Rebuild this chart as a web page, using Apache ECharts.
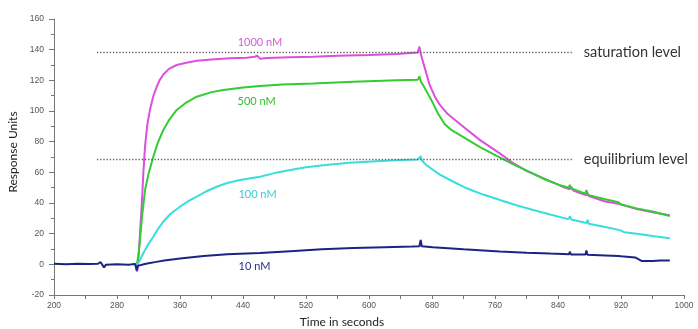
<!DOCTYPE html>
<html>
<head>
<meta charset="utf-8">
<script src="https://cdn.jsdelivr.net/npm/echarts@6/dist/echarts.min.js"></script>
<style>html,body{margin:0;padding:0;background:#fff}#c{width:698px;height:329px}</style>
</head>
<body>
<div id="c"></div>
<script>
// ---- data (time in seconds, response units) ----
const xTicks = [200, 280, 360, 440, 520, 600, 680, 760, 840, 920, 1000];
const yTicks = [-20, 0, 20, 40, 60, 80, 100, 120, 140, 160];

const nM1000 = [[300,0],[304,0],[305.5,-4.8],[306.5,-2],[308,10],[311.3,37.6],[313.5,60],[315.6,77],[318.5,91],[321.9,101],[326,109.5],[330.4,115.8],[334,120],[338.8,123.8],[346,127.5],[355.8,130],[368,131.5],[381.2,132.8],[400,133.6],[423.5,134.4],[445,134.7],[455,135.4],[458,136],[462,134],[470,134.5],[500,135],[529,135.4],[560,136],[600,136.6],[635,137.2],[662,138.2],[664,142],[665.5,138],[668,133],[672,126],[677,117],[684,109],[690,104],[700,98],[719,90],[741,81],[766,72.4],[782,66.4],[800,61],[824,55.6],[845,50.8],[855,49],[857,50.5],[859,48.3],[866,46.8],[876,45],[877,47],[879,44.5],[900,41],[918,39.3],[920,38.6],[940,36],[960,34],[982,32]];

const nM500 = [[300,0],[305,0],[307,5],[309.2,15.9],[312,32],[315.6,48.5],[320,59],[326.1,70.2],[332,79.5],[338.8,87.6],[346,94],[355.8,100.7],[368,105.5],[381.2,109.3],[400,112.3],[415,113.7],[440,115.3],[461.6,116.3],[490,117.3],[529,118],[580,119],[635,120],[662,120.4],[664,122.6],[666,119],[668.6,117],[675,111],[681.3,105],[688,98],[696,91.5],[705,87.5],[723,82],[741,76.5],[761,71],[782,65.5],[803,60.5],[825,55],[845,51.2],[853.6,50],[855,51.8],[857,49.5],[874.7,46],[876,48.5],[878,45.3],[900,42.5],[916.7,40.5],[920,39],[940,36.5],[960,34.5],[982,31.5]];

const nM100 = [[300,0],[305,0],[308,1.5],[313.4,7.2],[319,12.5],[326.1,18],[332,23],[338.8,27.8],[348,33],[360,37.6],[370,41],[381.2,44.1],[393,47.5],[406.6,50.6],[420,53],[436.2,55],[461.6,57.1],[480,59.5],[500,61.5],[520,63.3],[545,64.8],[575,66.2],[610,67.3],[640,68],[662,68.3],[665.6,70.6],[667,68],[672,65],[681.6,61.5],[690,58.5],[702.9,55],[724,49.6],[745,45.5],[766.3,42],[787,38.5],[808.6,35.4],[830,32.5],[853,29.5],[855.2,31.2],[857,29.2],[876.4,27],[877.5,29],[879,26.5],[900,24.3],[914.5,22.8],[920,22],[924,21],[940,20],[960,18.5],[982,17]];

const nM10 = [[200,0.3],[215,0.1],[230,0.4],[245,0.2],[256,0.4],[259,1.5],[261,0.5],[263.5,-2],[266,-0.2],[280,0.1],[295,-0.2],[303,0.3],[305,-4],[306.5,-1],[309,-1.5],[314,0],[320,0.7],[330,1.6],[340,2.5],[360,3.8],[390,5.4],[420,6.5],[461.6,7.4],[500,8.6],[540,9.8],[580,10.6],[620,11.2],[655,11.6],[664,11.8],[665.6,15.9],[667,11.8],[681,11.1],[720,9.8],[766,8.4],[800,7.6],[830,7],[854,6.6],[855,8.2],[856.5,6.4],[875,6.4],[876,9],[877.5,6.2],[900,5.8],[917,5.4],[918.5,6.4],[920,5.2],[938,4.5],[946,2.2],[960,2.2],[970,2.5],[982,2.5]];

const seriesNames = ['1000 nM', '500 nM', '100 nM', '10 nM'];
const labelPos = [[461.6,144.6],[457.4,106.5],[458.4,45.7],[454.6,-1.2]];

const levelNames = ['saturation level', 'equilibrium level'];
const levelValues = [138.2, 68.8];
const levelRange = [254.6, 857.5];

// ---- styling ----
const lineColors = ['#dd4fdd', '#33cc33', '#38dede', '#1c2482'];
const textColors = ['#d858d8', '#2fbf2f', '#3ccccc', '#2a2f88'];
const seriesData = [nM1000, nM500, nM100, nM10];

const chart = echarts.init(document.getElementById('c'), null, {renderer: 'canvas'});

const series = seriesData.map((d, i) => ({
  name: seriesNames[i],
  type: 'line',
  data: d,
  symbol: 'none',
  smooth: false,
  lineStyle: {color: lineColors[i], width: 2},
  itemStyle: {color: lineColors[i]},
  z: 2 + i,
  markPoint: {
    symbol: 'circle',
    symbolSize: 0,
    silent: true,
    data: [{coord: labelPos[i], value: seriesNames[i]}],
    label: {show: true, position: 'inside', formatter: seriesNames[i], color: textColors[i], fontFamily: 'Lato', fontSize: 11}
  }
}));

series.push({
  name: 'levels',
  type: 'line',
  data: [],
  symbol: 'none',
  markLine: {
    silent: true,
    symbol: ['none', 'none'],
    lineStyle: {color: '#555', type: [1.2, 2], width: 1.4},
    label: {show: true, position: 'end', distance: 12, color: '#333', fontFamily: 'Lato', fontSize: 14.5},
    data: levelNames.map((n, i) => [
      {coord: [levelRange[0], levelValues[i]]},
      {coord: [levelRange[1], levelValues[i]], label: {formatter: n}}
    ])
  }
});

chart.setOption({
  animation: false,
  backgroundColor: '#fff',
  grid: {left: 54, right: 14, top: 19, bottom: 34, containLabel: false, outerBoundsMode: 'none'},
  xAxis: {
    type: 'value',
    min: 200, max: 1000, interval: 40,
    name: 'Time in seconds',
    nameLocation: 'middle',
    nameGap: 21,
    nameTextStyle: {color: '#222', fontFamily: 'Lato', fontSize: 12, padding: [0, 54, 0, 0]},
    axisLine: {show: true, onZero: false, lineStyle: {color: '#777', width: 1}},
    axisTick: {show: true, length: 4, lineStyle: {color: '#777'}},
    axisLabel: {
      color: '#555', fontFamily: 'Liberation Sans', fontSize: 8.5, margin: 6,
      formatter: v => (xTicks.indexOf(v) >= 0 ? String(v) : '')
    },
    splitLine: {show: false}
  },
  yAxis: {
    type: 'value',
    min: -20, max: 160, interval: 20,
    name: 'Response Units',
    nameLocation: 'middle',
    nameGap: 34,
    nameTextStyle: {color: '#222', fontFamily: 'Lato', fontSize: 12, padding: [0, 0, 0, 10]},
    axisLine: {show: true, lineStyle: {color: '#777', width: 1}},
    axisTick: {show: true, length: 5, lineStyle: {color: '#777'}},
    minorTick: {show: true, splitNumber: 2, length: 3, lineStyle: {color: '#777'}},
    axisLabel: {
      color: '#555', fontFamily: 'Liberation Sans', fontSize: 8.5, margin: 10,
      formatter: v => (yTicks.indexOf(v) >= 0 ? String(v) : '')
    },
    splitLine: {show: false}
  },
  series: series
});
</script>
</body>
</html>
